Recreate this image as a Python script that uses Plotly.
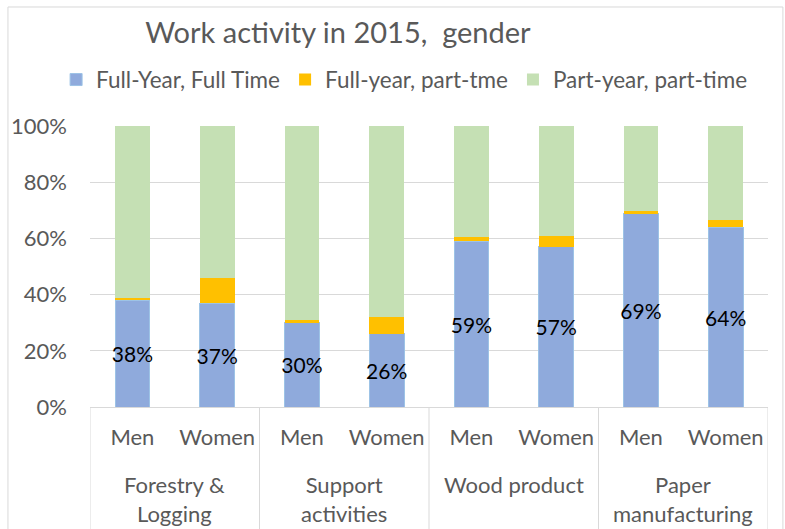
import plotly.graph_objects as go

# Industry groups and gender sub-categories
industries = ["Forestry &<br>Logging", "Support<br>activities", "Wood product", "Paper<br>manufacturing"]
genders = ["Men", "Women"]

# Share of workers (%) by work activity
full_year_full_time = [38, 37, 30, 26, 59, 57, 69, 64]
full_year_part_time = [0.9, 9, 1, 6, 1.5, 4, 0.7, 2.5]
part_year_part_time = [100 - a - b for a, b in zip(full_year_full_time, full_year_part_time)]

y_ticks = [0, 20, 40, 60, 80, 100]

# One category per (industry, gender) pair
x_keys = [f"{i}|{g}" for i in range(len(industries)) for g in genders]
x_text = [g for _ in industries for g in genders]

FONT = "Lato"
GREY = "#595959"
LINE = "#D9D9D9"
FS = 22

fig = go.Figure()
fig.add_trace(go.Bar(
    x=x_keys, y=full_year_full_time, name="Full-Year, Full Time",
    marker=dict(color="#8FAADC", line=dict(color="#9DC3E6", width=1)),
    width=0.41,
    text=[f"{v}%" for v in full_year_full_time],
    textposition="inside", insidetextanchor="middle", constraintext="none",
    textangle=0,
    textfont=dict(family=FONT, size=21, color="black"),
    hoverinfo="skip",
))
fig.add_trace(go.Bar(
    x=x_keys, y=full_year_part_time, name="Full-year, part-tme",
    marker=dict(color="#FFC000", line=dict(width=0)),
    width=0.41, hoverinfo="skip",
))
fig.add_trace(go.Bar(
    x=x_keys, y=part_year_part_time, name="Part-year, part-time",
    marker=dict(color="#C5E0B4", line=dict(width=0)),
    width=0.41, hoverinfo="skip",
))

fig.update_layout(
    barmode="stack",
    width=785, height=529,
    paper_bgcolor="white", plot_bgcolor="white",
    margin=dict(l=90, r=17, t=126, b=122),
    font=dict(family=FONT, color=GREY, size=FS),
    title=dict(text="Work activity in 2015,  gender", x=0.185, xanchor="left",
               y=0.938, yanchor="middle", font=dict(size=29, color=GREY)),
    legend=dict(orientation="h", x=-0.05, xanchor="left", y=1.164, yanchor="middle",
                font=dict(size=22.5, color=GREY), traceorder="normal",
                itemwidth=30),
    showlegend=True,
)
fig.update_yaxes(
    range=[0, 100], tickvals=y_ticks, ticktext=[f"{v}%" for v in y_ticks],
    showgrid=True, gridcolor=LINE, gridwidth=1,
    zeroline=False, showline=False, ticks="", ticklen=0,
    ticklabelstandoff=22,
    tickfont=dict(size=FS, color=GREY),
)
fig.update_xaxes(
    type="category", range=[-0.5, len(x_keys) - 0.5],
    tickvals=x_keys, ticktext=x_text,
    showline=True, linecolor=LINE, linewidth=1,
    showgrid=False, ticks="", ticklabelstandoff=11,
    tickfont=dict(size=FS, color=GREY),
)

# Industry group labels and dividers under the category axis
n_sub = len(genders)
for k, name in enumerate(industries):
    fig.add_annotation(
        x=k * n_sub + (n_sub - 1) / 2, xref="x", y=-0.221, yref="paper",
        yanchor="top", text=name, showarrow=False,
        font=dict(family=FONT, size=FS, color=GREY),
    )
for k in range(len(industries) + 1):
    fig.add_shape(type="line", xref="x", yref="paper",
                  x0=k * n_sub - 0.5, x1=k * n_sub - 0.5, y0=0, y1=-0.5,
                  line=dict(color=LINE, width=1))

# Chart-area border
fig.add_shape(type="rect", xref="paper", yref="paper",
              x0=-0.121, x1=1.022, y0=-0.5, y1=1.4235,
              line=dict(color=LINE, width=1), layer="below")

fig.write_html("out.html")
